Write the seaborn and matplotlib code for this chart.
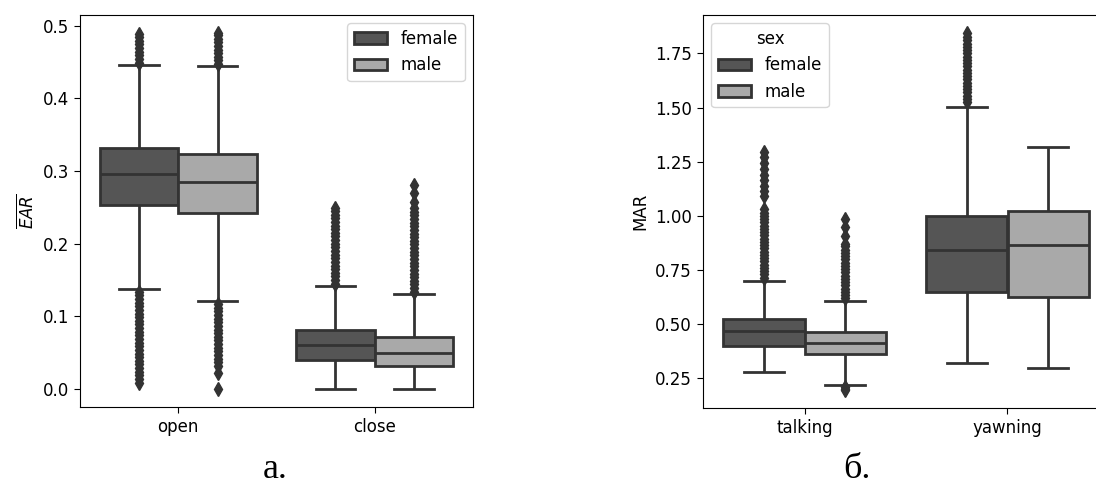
import pandas as pd
import numpy as np
import matplotlib
matplotlib.use("Agg")
import matplotlib.pyplot as plt
import seaborn as sns

sexes = ["female", "male"]
ear_states = ["open", "close"]
mar_states = ["talking", "yawning"]

# box summaries, order: (state0, female), (state0, male), (state1, female), (state1, male)
ear_lo = [0.138, 0.121, 0.0, 0.0]
ear_q1 = [0.253, 0.242, 0.040, 0.032]
ear_med = [0.296, 0.285, 0.061, 0.050]
ear_q3 = [0.331, 0.323, 0.081, 0.072]
ear_hi = [0.446, 0.444, 0.142, 0.131]
ear_fliers = [
    [0.449, 0.454, 0.459, 0.464, 0.469, 0.474, 0.479, 0.484, 0.489,
     0.134, 0.129, 0.124, 0.119, 0.114, 0.109, 0.104, 0.099, 0.094, 0.089,
     0.084, 0.079, 0.074, 0.069, 0.064, 0.059, 0.054, 0.049, 0.044, 0.039,
     0.034, 0.029, 0.024, 0.019, 0.014, 0.009],
    [0.447, 0.452, 0.457, 0.462, 0.467, 0.472, 0.477, 0.482, 0.487, 0.490,
     0.117, 0.112, 0.107, 0.102, 0.097, 0.092, 0.087, 0.082, 0.077, 0.072,
     0.067, 0.062, 0.057, 0.052, 0.047, 0.042, 0.037, 0.032, 0.022, 0.0],
    [0.145, 0.150, 0.155, 0.160, 0.165, 0.170, 0.175, 0.180, 0.185, 0.190,
     0.195, 0.200, 0.205, 0.210, 0.215, 0.220, 0.225, 0.230, 0.235, 0.240,
     0.245, 0.249],
    [0.134, 0.139, 0.144, 0.149, 0.154, 0.159, 0.164, 0.169, 0.174, 0.179,
     0.184, 0.189, 0.194, 0.199, 0.204, 0.209, 0.214, 0.219, 0.224, 0.229,
     0.234, 0.239, 0.244, 0.249, 0.257, 0.270, 0.281],
]

mar_lo = [0.278, 0.218, 0.323, 0.300]
mar_q1 = [0.401, 0.365, 0.650, 0.625]
mar_med = [0.470, 0.415, 0.842, 0.865]
mar_q3 = [0.525, 0.465, 0.998, 1.025]
mar_hi = [0.700, 0.608, 1.502, 1.320]
mar_fliers = [
    [0.715, 0.730, 0.745, 0.760, 0.775, 0.790, 0.805, 0.820, 0.835, 0.850,
     0.865, 0.880, 0.895, 0.910, 0.925, 0.940, 0.955, 0.970, 0.985, 1.000,
     1.015, 1.030, 1.090, 1.115, 1.140, 1.165, 1.190, 1.215, 1.245, 1.270,
     1.295],
    [0.620, 0.635, 0.650, 0.665, 0.680, 0.695, 0.710, 0.725, 0.740, 0.755,
     0.770, 0.785, 0.800, 0.815, 0.830, 0.845, 0.860, 0.870, 0.906, 0.947,
     0.984, 0.210, 0.203, 0.196],
    [1.525, 1.540, 1.555, 1.570, 1.585, 1.600, 1.615, 1.630, 1.645, 1.660,
     1.675, 1.690, 1.705, 1.720, 1.735, 1.750, 1.765, 1.780, 1.795, 1.810,
     1.825, 1.845],
    [],
]

colors = {"female": "#555555", "male": "#a9a9a9"}
line_col = "#333333"


def build_table(states, lo, q1, med, q3, hi, fliers, col, n=100):
    # repeat the quartile values so the library finds the same quartiles
    rows = []
    i = 0
    for st in states:
        for sx in sexes:
            vals = list(fliers[i]) + [lo[i], hi[i]] + [q1[i]] * n + [med[i]] * n + [q3[i]] * n
            for v in vals:
                rows.append({"status": st, "sex": sx, col: v})
            i += 1
    return pd.DataFrame(rows)


ear_df = build_table(ear_states, ear_lo, ear_q1, ear_med, ear_q3, ear_hi, ear_fliers, "EAR")
mar_df = build_table(mar_states, mar_lo, mar_q1, mar_med, mar_q3, mar_hi, mar_fliers, "MAR")

plt.rcParams["font.size"] = 12
plt.rcParams["xtick.major.size"] = 4.5
plt.rcParams["ytick.major.size"] = 4.5
fig = plt.figure(figsize=(10.96, 4.88), dpi=100)
ax1 = fig.add_axes([80 / 1096, 1 - 407 / 488, 393 / 1096, 392 / 488])
ax2 = fig.add_axes([703 / 1096, 1 - 408 / 488, 406 / 1096, 393 / 488])

flier_style = dict(marker="d", markerfacecolor=line_col, markeredgecolor=line_col, markersize=7)

sns.boxplot(data=ear_df, x="status", y="EAR", hue="sex", order=ear_states, hue_order=sexes,
            palette=colors, linecolor=line_col, linewidth=2, flierprops=flier_style, ax=ax1)
sns.boxplot(data=mar_df, x="status", y="MAR", hue="sex", order=mar_states, hue_order=sexes,
            palette=colors, linecolor=line_col, linewidth=2, flierprops=flier_style, ax=ax2)

ax1.set_xlabel("")
ax2.set_xlabel("")
ax1.set_ylabel(r"$\overline{EAR}$")
ax2.set_ylabel("MAR")
sns.move_legend(ax1, "upper right", title=None)
sns.move_legend(ax2, "upper left", title="sex")

fig.text(275 / 1096, 1 - 478 / 488, "а.", family="Liberation Serif", fontsize=26, ha="center", va="baseline")
fig.text(857 / 1096, 1 - 478 / 488, "б.", family="Liberation Serif", fontsize=26, ha="center", va="baseline")

fig.savefig("out.png", dpi=100)
